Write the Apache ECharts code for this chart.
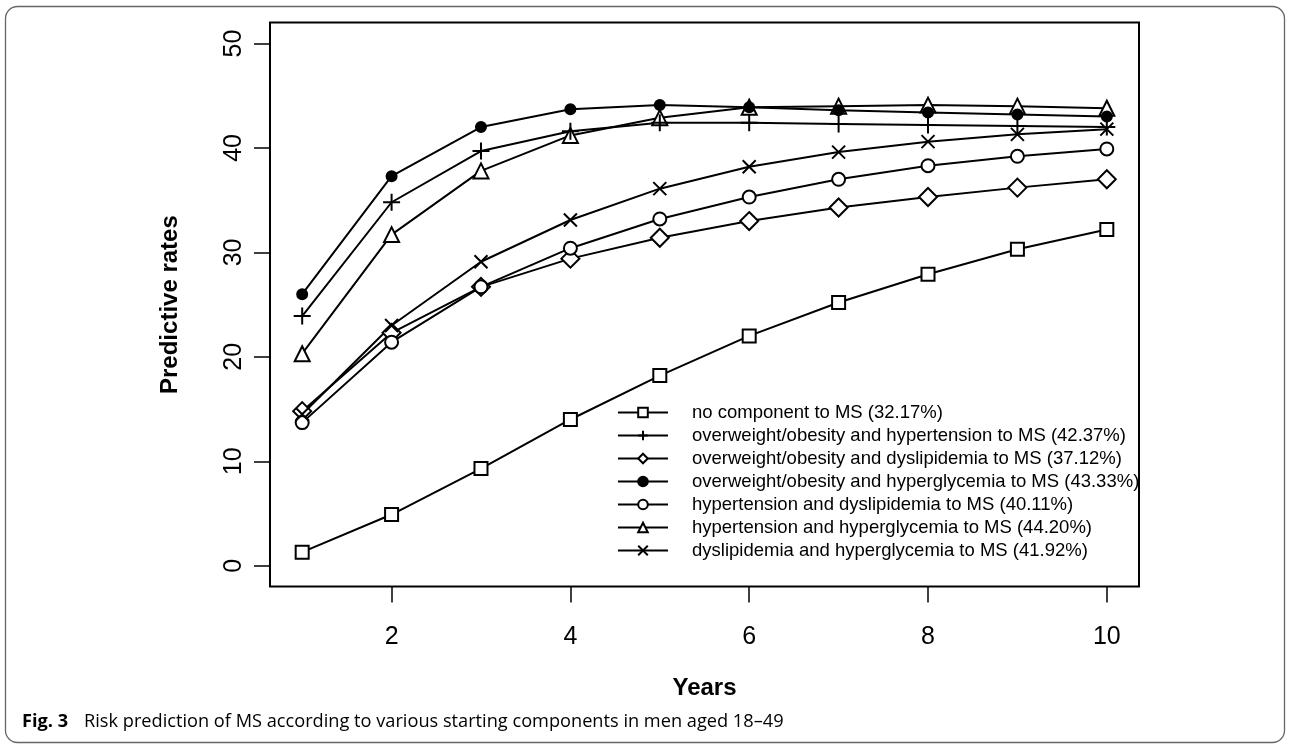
<!DOCTYPE html>
<html>
<head>
<meta charset="utf-8">
<script src="https://cdn.jsdelivr.net/npm/echarts@6/dist/echarts.min.js"></script>
<style>
html,body{margin:0;padding:0;background:#fff;}
#chart{width:1290px;height:746px;}
</style>
</head>
<body>
<div id="chart"></div>
<script>
// ---- data ----
const years = [1, 2, 3, 4, 5, 6, 7, 8, 9, 10];
const xTicks = [2, 4, 6, 8, 10];
const yTicks = [0, 10, 20, 30, 40, 50];

const noComponent      = [1.3, 4.9, 9.3, 14.0, 18.2, 22.0, 25.2, 27.9, 30.3, 32.2];
const owHypertension   = [23.9, 34.8, 39.7, 41.6, 42.4, 42.4, 42.3, 42.2, 42.1, 42.0];
const owDyslipidemia   = [14.8, 22.3, 26.7, 29.4, 31.4, 33.0, 34.3, 35.3, 36.2, 37.0];
const owHyperglycemia  = [26.0, 37.3, 42.0, 43.7, 44.1, 43.9, 43.6, 43.4, 43.2, 43.0];
const htDyslipidemia   = [13.7, 21.4, 26.7, 30.4, 33.2, 35.3, 37.0, 38.3, 39.2, 39.9];
const htHyperglycemia  = [20.3, 31.7, 37.8, 41.2, 42.9, 43.9, 44.0, 44.1, 44.0, 43.8];
const dlHyperglycemia  = [14.5, 23.0, 29.1, 33.1, 36.1, 38.2, 39.6, 40.6, 41.3, 41.8];

const names = [
  'no component to MS (32.17%)',
  'overweight/obesity and hypertension to MS (42.37%)',
  'overweight/obesity and dyslipidemia to MS (37.12%)',
  'overweight/obesity and hyperglycemia to MS (43.33%)',
  'hypertension and dyslipidemia to MS (40.11%)',
  'hypertension and hyperglycemia to MS (44.20%)',
  'dyslipidemia and hyperglycemia to MS (41.92%)'
];
const caption = 'Risk prediction of MS according to various starting components in men aged 18\u201349';

// ---- chart ----
const FONT = '"Liberation Sans", Arial, Helvetica, sans-serif';
const PLUS = 'path://M0,5L10,5M5,0L5,10';
const CROSS = 'path://M0,0L10,10M10,0L0,10';

function pts(vals) { return years.map((y, i) => [y, vals[i]]); }

function mkSeries(name, vals, symbol, size, filled) {
  return {
    name: name,
    type: 'line',
    data: pts(vals),
    symbol: symbol,
    symbolSize: size,
    showAllSymbol: true,
    lineStyle: { color: '#000', width: 2 },
    itemStyle: {
      color: filled ? '#000' : '#fff',
      borderColor: '#000',
      borderWidth: 2
    },
    emphasis: { disabled: true },
    silent: true,
    z: 2
  };
}

const series = [
  mkSeries(names[0], noComponent, 'rect', 13, false),
  mkSeries(names[2], owDyslipidemia, 'diamond', 18, false),
  mkSeries(names[4], htDyslipidemia, 'circle', 13, false),
  mkSeries(names[5], htHyperglycemia, 'triangle', 15, false),
  mkSeries(names[6], dlHyperglycemia, CROSS, 13, true),
  mkSeries(names[1], owHypertension, PLUS, 17, true),
  mkSeries(names[3], owHyperglycemia, 'circle', 10, true)
];

const chart = echarts.init(document.getElementById('chart'), null, { renderer: 'canvas' });
chart.setOption({
  animation: false,
  backgroundColor: '#fff',
  grid: {
    left: 270, right: 151, top: 22.6, bottom: 159.4,
    show: true, borderColor: '#000', borderWidth: 2,
    backgroundColor: 'transparent',
    containLabel: false,
    outerBoundsMode: 'none'
  },
  xAxis: {
    type: 'value', min: 0.64, max: 10.36,
    splitLine: { show: false },
    axisLine: { show: false, onZero: false },
    axisTick: { show: true, customValues: xTicks, length: 16, lineStyle: { color: '#000', width: 1.5 } },
    axisLabel: { customValues: xTicks, color: '#000', fontSize: 25, fontFamily: FONT, margin: 38 },
    name: 'Years', nameLocation: 'middle', nameGap: 90,
    nameTextStyle: { color: '#000', fontSize: 24, fontWeight: 'bold', fontFamily: FONT }
  },
  yAxis: {
    type: 'value', min: -2, max: 52,
    splitLine: { show: false },
    axisLine: { show: false, onZero: false },
    axisTick: { show: true, customValues: yTicks, length: 16, lineStyle: { color: '#000', width: 1.5 } },
    axisLabel: { customValues: yTicks, rotate: 90, color: '#000', fontSize: 25, fontFamily: FONT, margin: 23 },
    name: 'Predictive rates', nameLocation: 'middle', nameGap: 88,
    nameTextStyle: { color: '#000', fontSize: 24, fontWeight: 'bold', fontFamily: FONT }
  },
  legend: {
    data: names,
    orient: 'vertical',
    left: 617, top: 403,
    padding: 0,
    itemWidth: 50, itemHeight: 12, itemGap: 4,
    textStyle: { color: '#000', fontSize: 18.5, fontFamily: FONT, padding: [0, 0, 0, 19] },
    selectedMode: false
  },
  series: series,
  graphic: [
    {
      type: 'rect', silent: true, z: 0,
      shape: { x: 5.5, y: 6.5, width: 1279, height: 736, r: 12 },
      style: { fill: 'none', stroke: '#666', lineWidth: 1.3 }
    },
    {
      type: 'text', left: 22, top: 713, silent: true,
      style: { text: 'Fig. 3', font: 'bold 18.2px "Open Sans", Lato, sans-serif', fill: '#000' }
    },
    {
      type: 'text', left: 84, top: 713, silent: true,
      style: { text: caption, font: '18.2px "Open Sans", Lato, sans-serif', fill: '#000' }
    }
  ]
});
</script>
</body>
</html>
